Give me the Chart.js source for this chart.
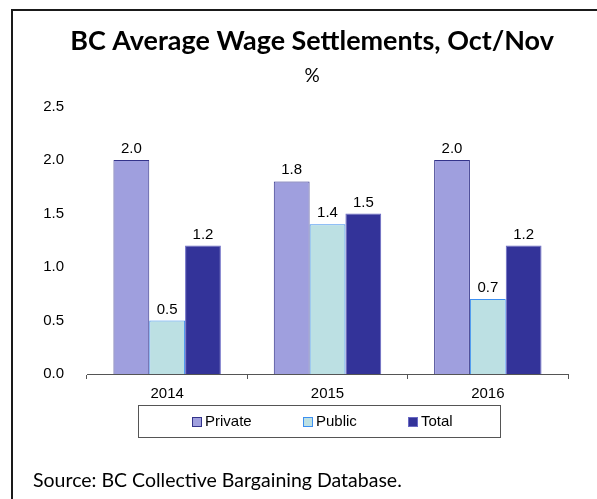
<!DOCTYPE html>
<html>
<head>
<meta charset="utf-8">
<script src="https://cdn.jsdelivr.net/npm/chart.js@4"></script>
<style>
html,body{margin:0;padding:0;background:#fff;}
canvas{display:block;}
</style>
</head>
<body>
<canvas id="c" width="597" height="499"></canvas>
<script>
const categories = ['2014', '2015', '2016'];
const privateValues = [2.0, 1.8, 2.0];
const publicValues = [0.5, 1.4, 0.7];
const totalValues = [1.2, 1.5, 1.2];
const seriesNames = ['Private', 'Public', 'Total'];
const yTicks = [0.0, 0.5, 1.0, 1.5, 2.0, 2.5];
const titleText = 'BC Average Wage Settlements, Oct/Nov';
const unitText = '%';
const sourceText = 'Source: BC Collective Bargaining Database.';

const smallFont = '"Liberation Sans", Arial';

function fitFont(ctx, text, weight, family, targetW) {
  ctx.font = weight + ' 100px ' + family;
  const w = ctx.measureText(text).width;
  return 100 * targetW / w;
}

const decor = {
  id: 'decor',
  afterDraw(chart) {
    const ctx = chart.ctx;
    ctx.save();
    // outer frame
    ctx.strokeStyle = '#1a1a1a';
    ctx.lineWidth = 2;
    ctx.beginPath();
    ctx.moveTo(12, 510);
    ctx.lineTo(12, 10);
    ctx.lineTo(610, 10);
    ctx.stroke();
    // title
    const tf = fitFont(ctx, titleText, 'bold', 'Lato', 484);
    ctx.font = 'bold ' + tf + 'px Lato';
    ctx.fillStyle = '#000';
    ctx.textAlign = 'center';
    ctx.textBaseline = 'alphabetic';
    ctx.fillText(titleText, 312, 50);
    ctx.font = '19px Lato';
    ctx.fillText(unitText, 312, 82);
    // source
    const sf = fitFont(ctx, sourceText, 'normal', 'Lato', 369);
    ctx.font = sf + 'px Lato';
    ctx.textAlign = 'left';
    ctx.fillText(sourceText, 33, 487);
    // legend
    ctx.strokeStyle = '#555';
    ctx.lineWidth = 1;
    ctx.strokeRect(138.5, 405.5, 362, 32);
    const itemX = [192, 303, 408];
    ctx.font = '15px ' + smallFont;
    ctx.textBaseline = 'middle';
    chart.data.datasets.forEach((ds, i) => {
      ctx.fillStyle = ds.backgroundColor;
      ctx.fillRect(itemX[i], 417, 10, 10);
      ctx.strokeStyle = ds.borderColor;
      ctx.strokeRect(itemX[i] + 0.5, 417.5, 9, 9);
      ctx.fillStyle = '#000';
      ctx.fillText(ds.label, itemX[i] + 13, 422);
    });
    // data labels
    ctx.textAlign = 'center';
    ctx.textBaseline = 'alphabetic';
    chart.data.datasets.forEach((ds, i) => {
      const meta = chart.getDatasetMeta(i);
      meta.data.forEach((bar, j) => {
        ctx.fillText(ds.data[j].toFixed(1), bar.x, bar.y - 7);
      });
    });
    ctx.restore();
  }
};

new Chart(document.getElementById('c'), {
  type: 'bar',
  data: {
    labels: categories,
    datasets: [
      { label: seriesNames[0], data: privateValues, backgroundColor: '#9f9fde', borderColor: '#33338a', borderWidth: 1 },
      { label: seriesNames[1], data: publicValues, backgroundColor: '#bce0e3', borderColor: '#3d8ff0', borderWidth: 1 },
      { label: seriesNames[2], data: totalValues, backgroundColor: '#333399', borderColor: '#6a6ac4', borderWidth: 1 }
    ]
  },
  options: {
    responsive: false,
    animation: false,
    events: [],
    categoryPercentage: 0.67,
    barPercentage: 1.0,
    layout: { padding: { top: 106.5, left: 0, right: 29, bottom: 95 } },
    plugins: { legend: { display: false }, title: { display: false }, tooltip: { enabled: false } },
    scales: {
      x: {
        afterFit(s) { s.height = 30; },
        grid: { display: true, drawOnChartArea: false, drawTicks: true, tickLength: 5, color: '#555', offset: true },
        border: { display: true, color: '#555', width: 1 },
        ticks: { color: '#000', font: { family: smallFont, size: 15 }, padding: 6 }
      },
      y: {
        min: 0, max: 2.5,
        afterFit(s) { s.width = 87; },
        afterBuildTicks(s) { s.ticks = yTicks.map(v => ({ value: v })); },
        grid: { display: false },
        border: { display: false },
        ticks: { color: '#000', font: { family: smallFont, size: 15 }, padding: 15,
          callback: v => Number(v).toFixed(1) }
      }
    }
  },
  plugins: [decor]
});
</script>
</body>
</html>
